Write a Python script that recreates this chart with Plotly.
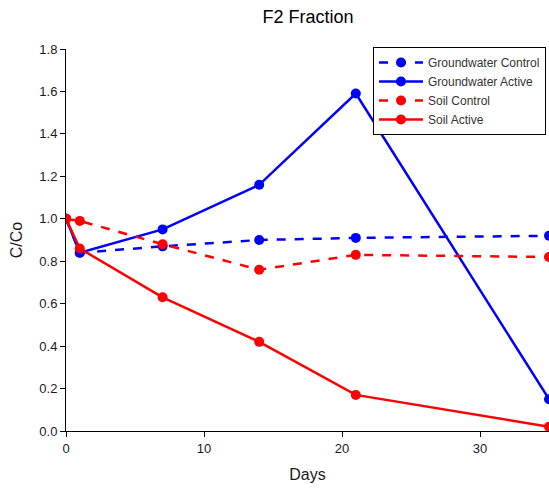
import plotly.graph_objects as go

days = [0, 1, 7, 14, 21, 35]
gw_control = [1.0, 0.84, 0.87, 0.90, 0.91, 0.92]
gw_active = [1.0, 0.84, 0.95, 1.16, 1.59, 0.15]
soil_control = [1.0, 0.99, 0.88, 0.76, 0.83, 0.82]
soil_active = [1.0, 0.86, 0.63, 0.42, 0.17, 0.02]

series = [
    ("Groundwater Control", gw_control, "#0000FF", "dash"),
    ("Groundwater Active", gw_active, "#0000FF", "solid"),
    ("Soil Control", soil_control, "#FF0000", "dash"),
    ("Soil Active", soil_active, "#FF0000", "solid"),
]

fig = go.Figure()
for name, ys, color, dash in series:
    fig.add_trace(go.Scatter(
        x=days, y=ys, name=name, mode="lines+markers",
        line=dict(color=color, width=2.5, dash=dash),
        marker=dict(color=color, size=10),
    ))

fig.update_layout(
    width=549, height=492,
    margin=dict(l=66, r=0, t=49, b=61),
    plot_bgcolor="white", paper_bgcolor="white",
    font=dict(family="Arial, Liberation Sans", size=13, color="#1a1a1a"),
    title=dict(text="F2 Fraction", x=308/549, xanchor="center", xref="container",
               y=1-17/492, yanchor="middle", yref="container",
               font=dict(size=18, color="#000000")),
    xaxis=dict(range=[0, 35], tickvals=[0, 10, 20, 30], showgrid=False, zeroline=False,
               showline=True, linecolor="#000000", linewidth=1,
               ticks="outside", ticklen=5, tickcolor="#000000",
               title=dict(text="Days", font=dict(size=16), standoff=14)),
    yaxis=dict(range=[0, 1.8], tickvals=[0, 0.2, 0.4, 0.6, 0.8, 1.0, 1.2, 1.4, 1.6, 1.8],
               tickformat=".1f", showgrid=False, zeroline=False,
               showline=True, linecolor="#000000", linewidth=1,
               ticks="outside", ticklen=5, tickcolor="#000000",
               title=dict(text="C/Co", font=dict(size=16), standoff=12)),
    legend=dict(x=(373-66)/483, xanchor="left", y=(431-47)/382, yanchor="top",
                bordercolor="#000000", borderwidth=1, bgcolor="white",
                font=dict(size=12, color="#333333"), tracegroupgap=0, itemwidth=44),
    showlegend=True,
)

fig.write_html("out.html")
